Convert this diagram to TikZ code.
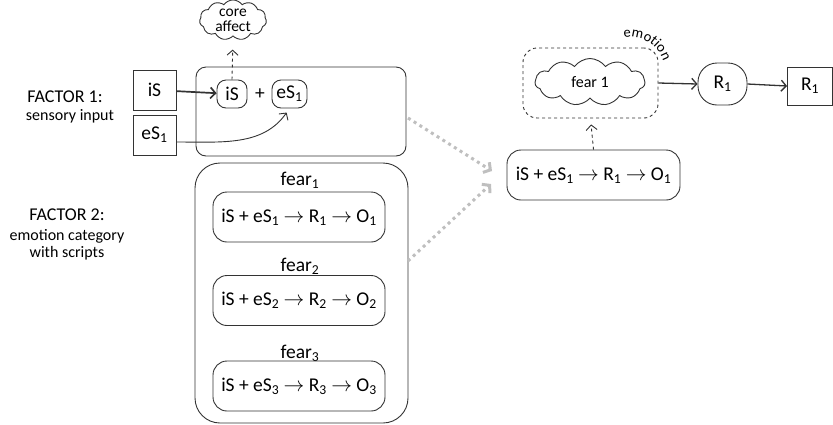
\documentclass[tikz,border=0pt]{standalone}
\usepackage{fontspec}
\setmainfont{Carlito}
\usetikzlibrary{shapes.symbols,arrows.meta,decorations.text}
\newcommand{\sbs}[1]{\textsubscript{#1}}
\newcommand{\arr}{$\rightarrow$}
\begin{document}
\begin{tikzpicture}[x=1pt,y=-1pt,
  ln/.style={draw=black!80,line width=0.9pt},
  big/.style={font=\fontsize{19.5}{21}\selectfont},
  sqbox/.style={ln,big,minimum width=43pt,minimum height=40pt,inner sep=0pt},
  pill/.style={ln,big,rounded corners=9pt,inner sep=0pt,minimum height=28pt},
  script/.style={ln,big,rounded corners=14pt,minimum width=172pt,minimum height=50pt,inner sep=0pt},
  cloudy/.style={ln,cloud,cloud puffs=11,cloud puff arc=110,aspect=2,inner sep=0pt},
  tip/.style={-{Straight Barb[length=5pt,width=11pt]}},
  gtip/.style={-{Straight Barb[length=5pt,width=12pt,line width=3pt]}},
  gdot/.style={draw=black!25,line width=3pt,dash pattern=on 3pt off 3.8pt,gtip},
  lbl/.style={anchor=base,inner sep=0pt}
]
\useasboundingbox (0,0) rectangle (833,424);

% left labels
\node[lbl,font=\fontsize{18}{20}\selectfont] (f1) at (65,102) {FACTOR 1:};
\node[lbl,font=\fontsize{16}{18}\selectfont] (f1s) at (70,120.5) {sensory input};
\node[lbl,font=\fontsize{18}{20}\selectfont] (f2) at (67,220) {FACTOR 2:};
\node[lbl,font=\fontsize{16}{18}\selectfont] (f2s) at (67,240.5) {emotion category};
\node[lbl,font=\fontsize{16}{18}\selectfont] (f2t) at (67,257.5) {with scripts};

% factor 1 block
\node[ln,rounded corners=10pt,minimum width=210pt,minimum height=89pt] (inbox) at (301,111.5) {};
\node[sqbox] (isbox) at (154.5,90) {iS};
\node[sqbox] (esbox) at (154.5,135) {eS\sbs1};
\node[pill,minimum width=30pt] (isin) at (232,94) {iS};
\node[big,inner sep=0pt] (plus) at (260,94) {+};
\node[pill,minimum width=35pt] (esin) at (289.5,94) {eS\sbs1};
\node[cloudy,minimum width=67pt,minimum height=35pt,align=center,font=\fontsize{15.5}{15}\selectfont] (ca) at (233,20) {core\\affect};

\draw[ln,line width=1.7pt,tip] (isbox) -- (isin);
\draw[ln,tip,shorten >=5pt] ([yshift=-7pt]esbox.east) to[out=0,in=-125] (esin.south);
\draw[ln,dashed,tip,shorten >=13pt] (isin.north) -- (ca.south);

% factor 2 block
\node[ln,rounded corners=25pt,minimum width=213pt,minimum height=260pt] (catbox) at (301.5,293) {};
\node[big,inner sep=0pt] (fear1) at (300,180) {fear\sbs1};
\node[script] (s1) at (299,217) {iS + eS\sbs1 \arr\ R\sbs1 \arr\ O\sbs1};
\node[big,inner sep=0pt] (fear2) at (300,266) {fear\sbs2};
\node[script] (s2) at (299,300.5) {iS + eS\sbs2 \arr\ R\sbs2 \arr\ O\sbs2};
\node[big,inner sep=0pt] (fear3) at (300,353) {fear\sbs3};
\node[script] (s3) at (299,386) {iS + eS\sbs3 \arr\ R\sbs3 \arr\ O\sbs3};

% right side
\node[ln,dashed,rounded corners=14pt,minimum width=135pt,minimum height=70pt] (emo) at (590.5,83) {};
\node[cloudy,minimum width=110pt,minimum height=47pt,font=\fontsize{16}{18}\selectfont] (fear) at (590,82) {fear 1};
\node[ln,big,rounded corners=19pt,minimum width=49pt,minimum height=42pt,inner sep=0pt] (r1c) at (722.5,84) {R\sbs1};
\node[sqbox,minimum width=45pt,minimum height=38pt] (r1b) at (810,86) {R\sbs1};
\node[script,minimum width=173pt] (sr) at (593.5,175) {iS + eS\sbs1 \arr\ R\sbs1 \arr\ O\sbs1};

\path[decorate,decoration={text along path,text align=fit to path,
  text={|\fontsize{14.5}{15}\selectfont|emotion}}]
  (623.9,37.5) arc[start angle=-100,end angle=-18,radius=35];

\draw[ln,line width=1.3pt,tip] (emo.east) -- (r1c.west);
\draw[ln,line width=1.3pt,tip] (r1c.east) -- (r1b.west);
\draw[ln,dashed,tip,shorten >=6pt] (sr.north) -- (emo.south);

% gray dotted arrows
\coordinate (g1s) at (408,118);
\coordinate (g1e) at (492,171);
\coordinate (g2s) at (408,261);
\coordinate (g2e) at (491,184);
\draw[gdot] (g1s) -- (g1e);
\draw[gdot] (g2s) -- (g2e);
\end{tikzpicture}
\end{document}
